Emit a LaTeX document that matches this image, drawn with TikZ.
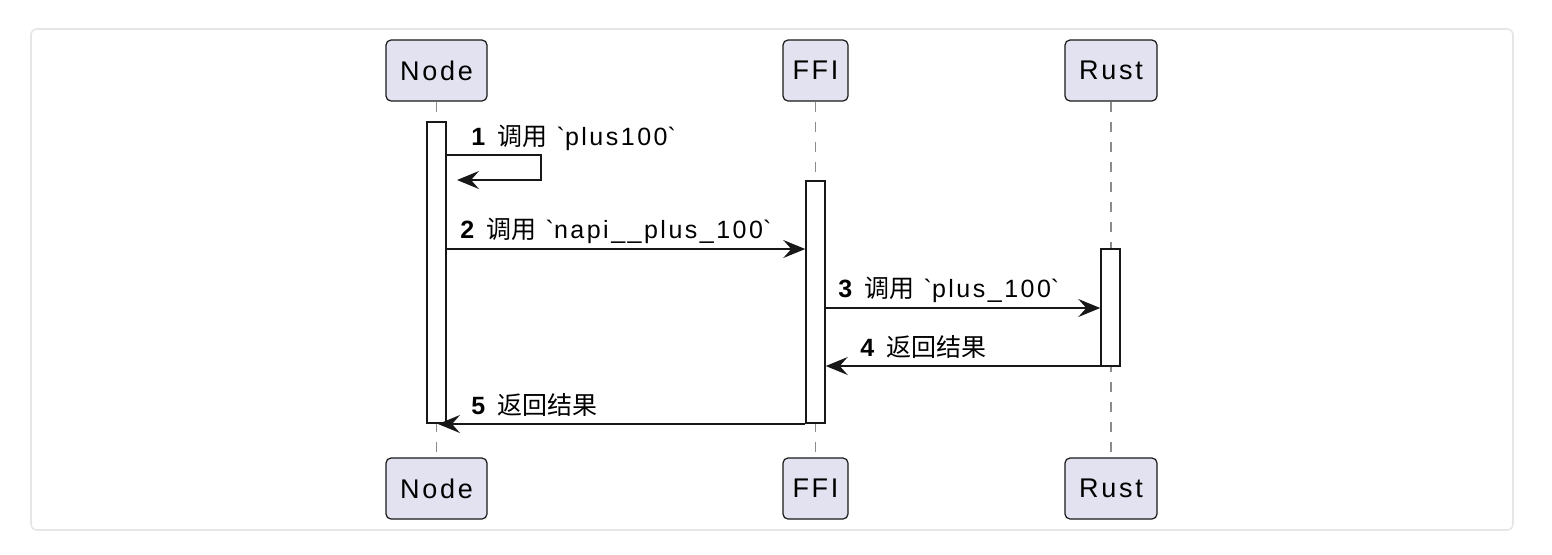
\documentclass[tikz,border=0pt]{standalone}
\usepackage{fontspec}
\setmainfont{Liberation Sans}[LetterSpace=10]
\newfontfamily\cjk{Noto Sans CJK SC}
\usetikzlibrary{arrows.meta,fit}

\definecolor{partfill}{HTML}{E2E2F0}
\definecolor{umlline}{HTML}{181818}
\definecolor{frameline}{HTML}{E6E6E6}

\tikzset{
  partbox/.style={draw=umlline, fill=partfill, rounded corners=2.5pt, line width=0.6pt,
    minimum height=30.5pt, inner sep=0pt, font=\fontsize{13.5}{16}\selectfont},
  lifeline/.style={draw=gray!90, line width=0.9pt, dash pattern=on 5pt off 5pt},
  actbar/.style={draw=umlline, fill=white, line width=0.75pt, inner sep=0pt},
  msg/.style={draw=umlline, line width=0.75pt, -{Stealth[length=11pt,width=9pt,inset=4pt]}},
  msglbl/.style={anchor=base west, inner sep=0pt, font=\fontsize{12.5}{15}\selectfont},
}
\newcommand{\callcn}{{\cjk 调用}}
\newcommand{\backcn}{{\cjk 返回结果}}
\newcommand{\gravetick}{\textasciigrave}

\begin{document}
\begin{tikzpicture}[x=0.5pt, y=-0.5pt]
\useasboundingbox (0,0) rectangle (1552,554);

% Frame
\draw [frameline, line width=0.8pt, rounded corners=3pt] (31,29) rectangle (1513,530);

% Participants and lifelines
\foreach \name/\lbl/\x/\w in {pN/Node/436.5/50.5, pF/FFI/815.5/32.5, pR/Rust/1111/46}
{
	\node[partbox, minimum width=\w pt] (\name-top) at (\x,70.5) {\lbl};
	\node[partbox, minimum width=\w pt] (\name-bot) at (\x,488.5) {\lbl};
	\draw[lifeline] (\name-top) -- (\name-bot);
}

% Activations
\node[actbar, fit={(427,122) (446,423)}] (actN) {};
\node[actbar, fit={(806,181) (825,423)}] (actF) {};
\node[actbar, fit={(1101,249) (1120,366)}] (actR) {};

% Messages
\coordinate (m1a) at (541,155);
\coordinate (m1b) at (457,180);
\draw[msg] (actN.east |- m1a) -- (m1a) |- (m1b);
\node[msglbl] (l1) at (471,145) {\textbf{1} \callcn{} \gravetick plus100\gravetick};

\coordinate (m2) at (0,249);
\draw[msg] (actN.east |- m2) -- (actF.west |- m2);
\node[msglbl] (l2) at (460,238) {\textbf{2} \callcn{} \gravetick napi\_\_plus\_100\gravetick};

\coordinate (m3) at (0,308);
\draw[msg] (actF.east |- m3) -- (actR.west |- m3);
\node[msglbl] (l3) at (838,297) {\textbf{3} \callcn{} \gravetick plus\_100\gravetick};

\coordinate (m4) at (0,366);
\draw[msg] (actR.west |- m4) -- (actF.east |- m4);
\node[msglbl] (l4) at (860,356) {\textbf{4} \backcn};

\coordinate (m5) at (438,424);
\draw[msg] (actF.west |- m5) -- (m5);
\node[msglbl] (l5) at (471,414) {\textbf{5} \backcn};

\end{tikzpicture}
\end{document}
